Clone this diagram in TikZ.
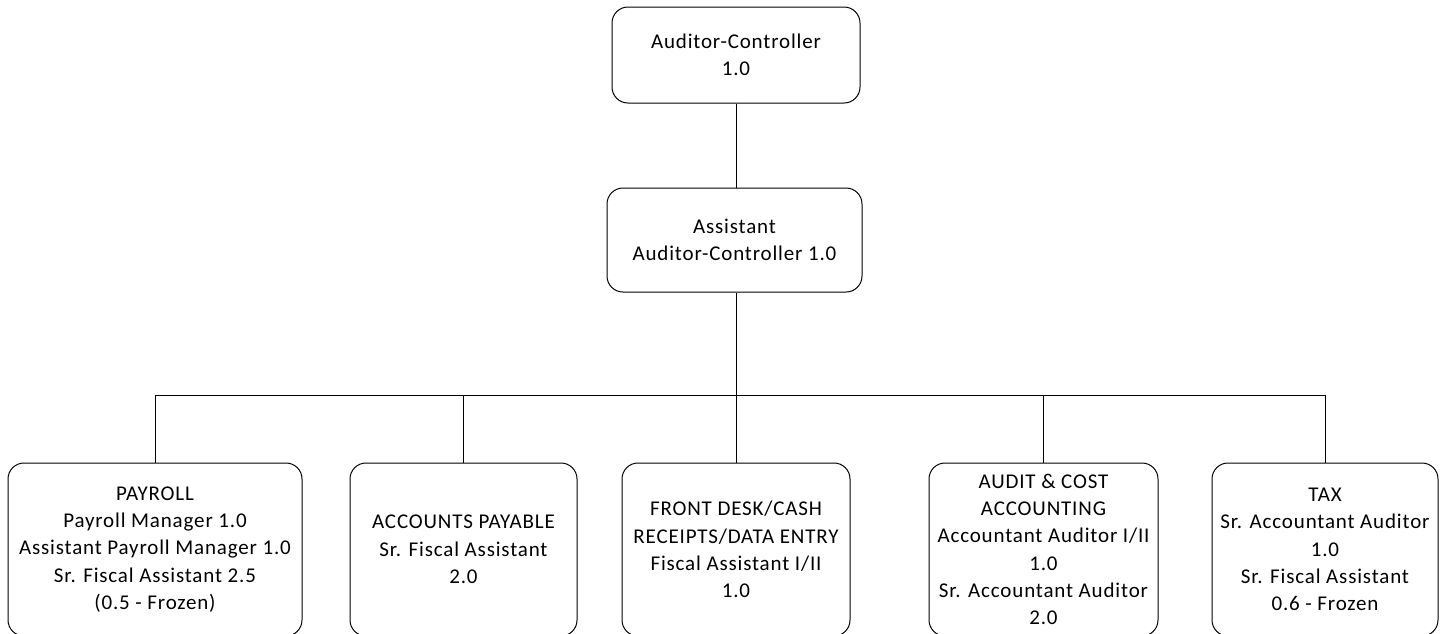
\documentclass[tikz,border=0pt]{standalone}
\usepackage{fontspec}
\setmainfont[LetterSpace=4]{Carlito}
\begin{document}
\begin{tikzpicture}[x=1pt,y=-1pt,
  box/.style={draw=black,line width=1pt,rounded corners=16pt,align=center,
    inner sep=0pt,font=\fontsize{21}{27.3}\selectfont},
  conn/.style={draw=black,line width=1pt}]
\useasboundingbox (0,0) rectangle (1445,633);
\node[box,minimum width=248pt,minimum height=96pt] (top) at (736,55) {Auditor-Controller\\1.0};
\node[box,minimum width=255pt,minimum height=104pt] (asst) at (734.5,240) {Assistant\\Auditor-Controller 1.0};
\node[box,minimum width=294pt,minimum height=173pt] (pay) at (155,549.5)
  {PAYROLL\\Payroll Manager 1.0\\Assistant Payroll Manager 1.0\\Sr. Fiscal Assistant 2.5\\(0.5 - Frozen)};
\node[box,minimum width=227pt,minimum height=173pt] (ap) at (463.5,549.5)
  {ACCOUNTS PAYABLE\\Sr. Fiscal Assistant\\2.0};
\node[box,minimum width=228pt,minimum height=173pt] (fd) at (736,549.5)
  {FRONT DESK/CASH\\RECEIPTS/DATA ENTRY\\Fiscal Assistant I/II\\1.0};
\node[box,minimum width=229pt,minimum height=173pt] (aud) at (1043.5,549.5)
  {AUDIT \& COST\\ACCOUNTING\\Accountant Auditor I/II\\1.0\\Sr. Accountant Auditor\\2.0};
\node[box,minimum width=226pt,minimum height=173pt] (tax) at (1325,549.5)
  {TAX\\Sr. Accountant Auditor\\1.0\\Sr. Fiscal Assistant\\0.6 - Frozen};
\coordinate (bus) at (736,395);
\draw[conn] (top.south -| bus) -- (asst.north -| bus);
\draw[conn] (asst.south -| bus) -- (bus);
\draw[conn] (bus) -| (pay.north);
\draw[conn] (bus) -| (ap.north);
\draw[conn] (bus) -- (fd.north);
\draw[conn] (bus) -| (aud.north);
\draw[conn] (bus) -| (tax.north);
\end{tikzpicture}
\end{document}
